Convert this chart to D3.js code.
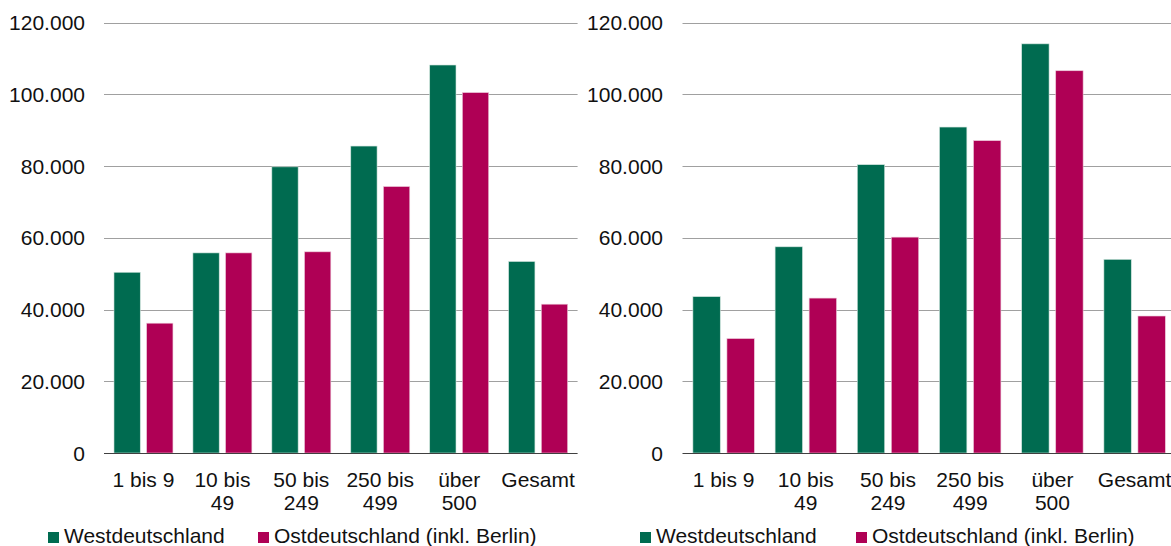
<!DOCTYPE html>
<html><head><meta charset="utf-8">
<script src="https://cdn.jsdelivr.net/npm/d3@7"></script>
<style>
html,body{margin:0;padding:0;background:#fff;overflow:hidden;}
svg{display:block;font-family:"Liberation Sans",Arial,sans-serif;}
</style></head>
<body>
<svg id="c" width="1171" height="546"></svg>
<script>
// ---- data ----
const categories = [["1 bis 9"], ["10 bis", "49"], ["50 bis", "249"], ["250 bis", "499"], ["über", "500"], ["Gesamt"]];
const seriesNames = ["Westdeutschland", "Ostdeutschland (inkl. Berlin)"];
const leftWest = [50400, 55800, 79800, 85600, 108200, 53400];
const leftOst  = [36200, 55800, 56100, 74300, 100500, 41500];
const rightWest = [43600, 57500, 80400, 90900, 114100, 54000];
const rightOst  = [31900, 43200, 60200, 87100, 106600, 38200];
const yTicks = [0, 20000, 40000, 60000, 80000, 100000, 120000];
const colors = ["#006B50", "#AF0055"];

// ---- layout ----
const charts = [
  {west: leftWest, ost: leftOst, plotL: 104, plotR: 577.6, labelX: 85, legX: 48, legStep: 210},
  {west: rightWest, ost: rightOst, plotL: 682.5, plotR: 1175.7, labelX: 663, legX: 640, legStep: 216}
];
const yTop = 22.7, yBase = 453;
const fs = "21px";
const fmt = d3.formatLocale({decimal: ",", thousands: ".", grouping: [3], currency: ["", "€"]}).format(",d");
const svg = d3.select("#c");

charts.forEach(ch => {
  const g = svg.append("g");
  const y = d3.scaleLinear().domain([0, 120000]).range([yBase, yTop]);
  const x0 = d3.scaleBand().domain(d3.range(categories.length)).range([ch.plotL, ch.plotR]).padding(0);
  const step = x0.step();
  const off = step * 0.1265;
  const x1 = d3.scaleBand().domain([0, 1]).range([off, step - off]).paddingInner(0.196).paddingOuter(0);

  // gridlines
  g.append("g").selectAll("line").data(yTicks.filter(t => t > 0)).join("line")
    .attr("x1", ch.plotL).attr("x2", ch.plotR)
    .attr("y1", d => Math.round(y(d)) + 0.5).attr("y2", d => Math.round(y(d)) + 0.5)
    .attr("stroke", "#a0a0a0").attr("stroke-width", 1);

  // tick labels
  g.append("g").selectAll("text").data(yTicks).join("text")
    .attr("x", ch.labelX).attr("y", d => y(d))
    .attr("dy", "0.36em").attr("text-anchor", "end")
    .attr("font-size", fs).attr("fill", "#111")
    .text(d => fmt(d));

  // bars
  const data = [ch.west, ch.ost];
  data.forEach((vals, si) => {
    g.append("g").selectAll("rect").data(vals).join("rect")
      .attr("x", (d, i) => x0(i) + x1(si))
      .attr("width", x1.bandwidth())
      .attr("y", d => y(d))
      .attr("height", d => y(0) - y(d))
      .attr("fill", colors[si])
      .attr("stroke", si === 0 ? "#cfe3dc" : "#ecc6d7").attr("stroke-width", 0.6);
  });

  // baseline
  g.append("line").attr("x1", ch.plotL).attr("x2", ch.plotR)
    .attr("y1", yBase + 0.5).attr("y2", yBase + 0.5)
    .attr("stroke", "#404040").attr("stroke-width", 1.2);

  // category labels
  const cl = g.append("g").selectAll("text").data(categories).join("text")
    .attr("x", (d, i) => x0(i) + step / 2).attr("y", 486.5)
    .attr("text-anchor", "middle").attr("font-size", fs).attr("fill", "#111");
  cl.selectAll("tspan").data(d => d).join("tspan")
    .attr("x", function () { return d3.select(this.parentNode).attr("x"); })
    .attr("dy", (d, i) => i === 0 ? 0 : 23.5)
    .text(d => d);

  // legend
  const lg = g.append("g").selectAll("g").data(seriesNames).join("g")
    .attr("transform", (d, i) => `translate(${ch.legX + i * ch.legStep},0)`);
  lg.append("rect").attr("x", 0).attr("y", 532).attr("width", 11).attr("height", 11)
    .attr("fill", (d, i) => colors[i]);
  lg.append("text").attr("x", 16).attr("y", 543.3).attr("font-size", fs).attr("fill", "#111")
    .text(d => d);
});
</script>
</body></html>
